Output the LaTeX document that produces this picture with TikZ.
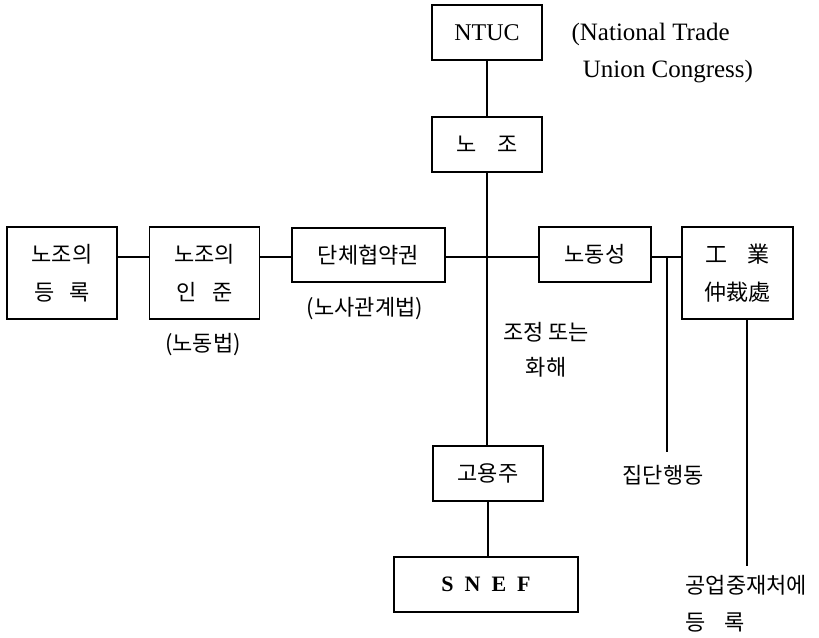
\documentclass[tikz,border=0pt]{standalone}
\usepackage{fontspec}
\setmainfont{Liberation Serif}
\newfontfamily\kr{Noto Sans CJK KR}
\usepackage{tikz}
\usetikzlibrary{positioning}

\begin{document}
\begin{tikzpicture}[x=1pt, y=-1pt, line width=1.2pt, inner sep=0,
    box/.style={draw, line width=1.4pt, align=center, minimum width=110pt, minimum height=55pt, font=\kr\fontsize{22}{38}\selectfont},
    tallbox/.style={box, minimum height=92pt},
    note/.style={align=center, font=\kr\fontsize{22}{36}\selectfont}]

\useasboundingbox (0,0) rectangle (819,637);

\draw
    (487,32.5) node [box, name=ntuc, font=\fontsize{24}{36}\selectfont] {NTUC}
    (487,144.5) node [box, name=union] {노\hspace{0.95em}조}
    (62,273) node [tallbox, name=registration] {노조의\\등\hspace{0.7em}록}
    (204.5,273) node [tallbox, name=approval] {노조의\\인\hspace{0.7em}준}
    (368.5,255) node [box, name=bargaining, minimum width=153pt, minimum height=54pt] {단체협약권}
    (595,254.5) node [box, name=ministry, minimum width=112pt] {노동성}
    (737.5,273) node [tallbox, name=arbitration, minimum width=111pt] {工\hspace{0.9em}業\\仲裁處}
    (488,473.5) node [box, name=employer] {고용주}
    (486,584.5) node [box, name=snef, minimum width=184pt, font=\bfseries\fontsize{22}{30}\selectfont] {S\hspace{0.5em}N\hspace{0.5em}E\hspace{0.5em}F}
;

\draw
    (571,53.5) node [anchor=west, name=ntuc name, align=left, font=\fontsize{25}{37}\selectfont] {(National Trade\\\hspace*{0.45em}Union Congress)}
    (203,345) node [note, name=labour law] {(노동법)}
    (365,309) node [note, name=relations law] {(노사관계법)}
    (546,349.5) node [note, name=conciliation, font=\kr\fontsize{22}{35}\selectfont] {조정 또는\\화해}
    (663,475) node [note, name=strike] {집단행동}
    (685,603.5) node [anchor=west, name=award, align=left, font=\kr\fontsize{22}{37}\selectfont] {공업중재처에\\등\hspace{0.85em}록}
;

\coordinate (mid) at (488,257);
\coordinate (strike top) at (667,257);
\coordinate (strike end) at (667,452);
\coordinate (award end) at (747,566);

\draw (ntuc) -- (union);
\draw (union.south) -- (union.south |- employer.north);
\draw (employer.south) -- (employer.south |- snef.north);

\draw (registration.east |- mid) -- (approval.west |- mid);
\draw (approval.east |- mid) -- (bargaining.west |- mid);
\draw (bargaining.east |- mid) -- (ministry.west |- mid);
\draw (ministry.east |- mid) -- (arbitration.west |- mid);

\draw (strike top) -- (strike end);
\draw (arbitration.south -| award end) -- (award end);

\end{tikzpicture}
\end{document}
